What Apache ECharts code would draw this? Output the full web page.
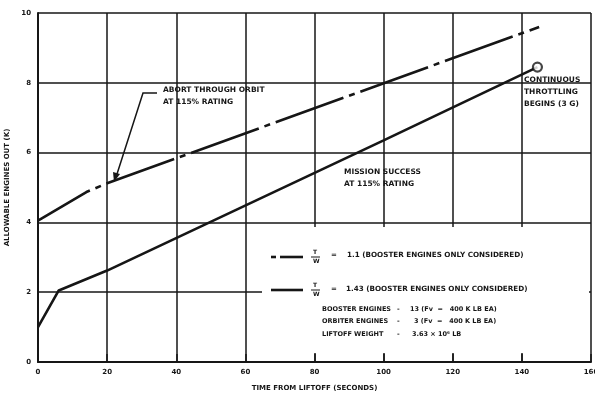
<!DOCTYPE html>
<html><head><meta charset="utf-8">
<script src="https://cdn.jsdelivr.net/npm/echarts@6/dist/echarts.min.js"></script>
<style>html,body{margin:0;padding:0;background:#fff}#c{width:595px;height:395px}</style>
</head><body><div id="c"></div>
<script>
const xTicks = [0,20,40,60,80,100,120,140,160];
const yTicks = [0,2,4,6,8,10];
const abortTime = [0, 14, 20, 145];
const abortEngines = [4.05, 4.87, 5.12, 9.6];
const missionTime = [0, 6, 20, 100, 144.5];
const missionEngines = [1.0, 2.05, 2.62, 6.35, 8.45];
const throttleTime = [144.5];
const throttleEngines = [8.45];

const F = 'DejaVu Sans';
const ink = '#161616';
const chart = echarts.init(document.getElementById('c'), null, {renderer:'canvas'});
const txt = (x,y,s,size,extra) => Object.assign({type:'text', x, y, z:20, style:{text:s, fill:ink, font:'bold '+(size||8)+'px "'+F+'"'}}, extra||{});

chart.setOption({
  animation:false,
  backgroundColor:'#fff',
  grid:{left:38, right:4, top:13, bottom:33, containLabel:false, outerBoundsMode:'none'},
  xAxis:{type:'value', min:0, max:160, interval:20,
    name:'TIME FROM LIFTOFF (SECONDS)', nameLocation:'middle', nameGap:23,
    nameTextStyle:{fontFamily:F, fontWeight:'bold', fontSize:7, color:ink},
    axisLine:{show:true, lineStyle:{color:ink, width:2}},
    axisTick:{show:true, inside:true, length:8, lineStyle:{color:ink, width:1.5}},
    axisLabel:{fontFamily:F, fontWeight:'bold', fontSize:7, color:ink, margin:7,
      formatter:v=>xTicks.includes(v)?String(v):''},
    splitLine:{show:true, lineStyle:{color:ink, width:1.5}}},
  yAxis:{type:'value', min:0, max:10, interval:2,
    name:'ALLOWABLE ENGINES OUT (K)', nameLocation:'middle', nameGap:21, nameRotate:90,
    nameTextStyle:{fontFamily:F, fontWeight:'bold', fontSize:7, color:ink},
    axisLine:{show:true, onZero:false, lineStyle:{color:ink, width:2}},
    axisTick:{show:false},
    axisLabel:{fontFamily:F, fontWeight:'bold', fontSize:7, color:ink, margin:7,
      formatter:v=>yTicks.includes(v)?String(v):''},
    splitLine:{show:true, lineStyle:{color:ink, width:1.5}}},
  series:[
    {type:'line', name:'T/W = 1.1', z:5, symbol:'none',
      data:abortTime.map((t,i)=>[t, abortEngines[i]]),
      lineStyle:{color:ink, width:2.6, type:[72,6,6,6], dashOffset:12}},
    {type:'line', name:'T/W = 1.43', z:5, symbol:'none',
      data:missionTime.map((t,i)=>[t, missionEngines[i]]),
      lineStyle:{color:ink, width:2.6}},
    {type:'scatter', z:6, symbol:'circle', symbolSize:9,
      data:throttleTime.map((t,i)=>[t, throttleEngines[i]]),
      itemStyle:{color:'#fff', borderColor:ink, borderWidth:2.2}}
  ],
  graphic:[
    {type:'rect', z:10, shape:{x:262, y:227, width:327, height:126}, style:{fill:'#fff'}},
    // legend
    {type:'line', z:20, shape:{x1:271,y1:257,x2:276,y2:257}, style:{stroke:ink, lineWidth:2.6}},
    {type:'line', z:20, shape:{x1:280,y1:257,x2:303,y2:257}, style:{stroke:ink, lineWidth:2.6}},
    txt(313,249,'T',6),
    {type:'line', z:20, shape:{x1:311,y1:257,x2:320,y2:257}, style:{stroke:ink, lineWidth:1}},
    txt(313,258,'W',6),
    txt(331,252,'=',7),
    txt(347,252,'1.1 (BOOSTER ENGINES ONLY CONSIDERED)',7.2),
    {type:'line', z:20, shape:{x1:271,y1:290,x2:303,y2:290}, style:{stroke:ink, lineWidth:2.6}},
    txt(313,282,'T',6),
    {type:'line', z:20, shape:{x1:311,y1:290,x2:320,y2:290}, style:{stroke:ink, lineWidth:1}},
    txt(313,291,'W',6),
    txt(331,286,'=',7),
    txt(346,286,'1.43 (BOOSTER ENGINES ONLY CONSIDERED)',7.2),
    txt(322,306,'BOOSTER ENGINES',6.5), txt(397,306,'-',6.5), txt(410,306,'13 (Fv  =   400 K LB EA)',6.5),
    txt(322,318,'ORBITER ENGINES',6.5), txt(397,318,'-',6.5), txt(414,318,'3 (Fv  =   400 K LB EA)',6.5),
    txt(322,331,'LIFTOFF WEIGHT',6.5), txt(397,331,'-',6.5), txt(412,331,'3.63 \u00d7 10\u2076 LB',6.5),
    // annotations
    txt(163,86,'ABORT THROUGH ORBIT',7.5),
    txt(163,98,'AT 115% RATING',7.5),
    {type:'polyline', z:20, shape:{points:[[157,93],[143,93],[117,174]]}, style:{stroke:ink, lineWidth:1.5, fill:null}},
    {type:'polygon', z:20, shape:{points:[[114,182],[113,172],[120,174]]}, style:{fill:ink}},
    txt(344,168,'MISSION SUCCESS',7.5),
    txt(344,180,'AT 115% RATING',7.5),
    txt(524,76,'CONTINUOUS',7.5),
    txt(524,88,'THROTTLING',7.5),
    txt(524,100,'BEGINS (3 G)',7.5)
  ]
});
</script></body></html>
